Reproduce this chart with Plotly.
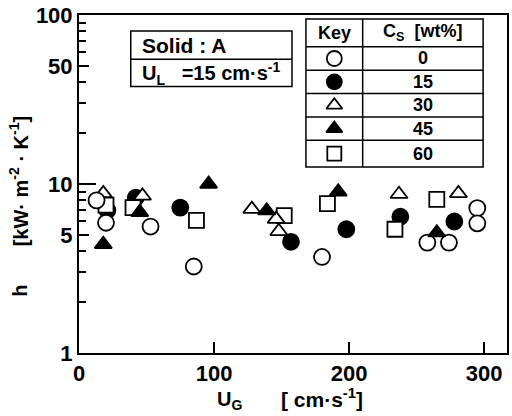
import plotly.graph_objects as go

# ---------------- data ----------------
ug_cs0 = [13, 20, 53, 85, 180, 258, 274, 295, 295]
h_cs0 = [8.0, 5.9, 5.6, 3.25, 3.7, 4.5, 4.5, 7.2, 5.85]

ug_cs15 = [21, 42, 75, 157, 198, 238, 278]
h_cs15 = [7.0, 8.3, 7.25, 4.55, 5.4, 6.4, 6.0]

ug_cs30 = [18, 47, 128, 146, 148, 237, 281]
h_cs30 = [8.8, 8.5, 7.1, 6.2, 5.25, 8.7, 8.8]

ug_cs45 = [18, 45, 96, 139, 192, 265]
h_cs45 = [4.4, 6.8, 10.0, 6.95, 9.0, 5.15]

ug_cs60 = [20, 40, 87, 152, 184, 234, 265]
h_cs60 = [7.5, 7.25, 6.1, 6.5, 7.65, 5.4, 8.1]

key_labels = ["0", "15", "30", "45", "60"]

x_ticks = [0, 100, 200, 300]
y_ticks = [1, 5, 10, 50, 100]
y_minor = [2, 3, 4, 6, 7, 8, 9, 20, 30, 40, 60, 70, 80, 90]

# ---------------- layout geometry ----------------
W, H = 512, 416
L, R, T, B = 79, 3, 13, 63
PW, PH = W - L - R, H - T - B


def px(x):
    return (x - L) / PW


def py(y):
    return (H - B - y) / PH


FONT = "Liberation Sans"
BLK = "black"

styles = {
    "0": dict(symbol="circle", size=16, color="white"),
    "15": dict(symbol="circle", size=16, color=BLK),
    "30": dict(symbol="triangle-up", size=15, color="white"),
    "45": dict(symbol="triangle-up", size=15, color=BLK),
    "60": dict(symbol="square", size=15, color="white"),
}

series = {
    "0": (ug_cs0, h_cs0),
    "15": (ug_cs15, h_cs15),
    "30": (ug_cs30, h_cs30),
    "45": (ug_cs45, h_cs45),
    "60": (ug_cs60, h_cs60),
}

fig = go.Figure()

draw_order = ["15", "60", "30", "0", "45"]
for k in draw_order:
    xs, ys = series[k]
    st = styles[k]
    fig.add_trace(go.Scatter(
        x=xs, y=ys, mode="markers", showlegend=False, cliponaxis=False,
        marker=dict(symbol=st["symbol"], size=st["size"], color=st["color"],
                    line=dict(color=BLK, width=1.8)),
    ))

# ---------------- key table ----------------
tx0, tx1, tx2 = 307, 364, 485
row_lines = [17, 45, 68.5, 92, 115.5, 139, 166]
col1c = (tx0 + tx1) / 2
col2c = (tx1 + tx2) / 2

shapes = []
line_style = dict(color=BLK, width=1.5)
shapes.append(dict(type="rect", xref="paper", yref="paper",
                   x0=px(tx0), x1=px(tx2), y0=py(row_lines[0]), y1=py(row_lines[-1]),
                   line=line_style, fillcolor="rgba(0,0,0,0)", layer="above"))
shapes.append(dict(type="line", xref="paper", yref="paper",
                   x0=px(tx1), x1=px(tx1), y0=py(row_lines[0]), y1=py(row_lines[-1]),
                   line=line_style, layer="above"))
for yl in row_lines[1:-1]:
    shapes.append(dict(type="line", xref="paper", yref="paper",
                       x0=px(tx0), x1=px(tx2), y0=py(yl), y1=py(yl),
                       line=line_style, layer="above"))

# info box
bx0, bx1 = 131, 293
by = [29, 57.5, 85]
shapes.append(dict(type="rect", xref="paper", yref="paper",
                   x0=px(bx0), x1=px(bx1), y0=py(by[0]), y1=py(by[2]),
                   line=line_style, fillcolor="rgba(0,0,0,0)", layer="above"))
shapes.append(dict(type="line", xref="paper", yref="paper",
                   x0=px(bx0), x1=px(bx1), y0=py(by[1]), y1=py(by[1]),
                   line=line_style, layer="above"))

ann = []


def text(x, y, s, size, xanchor="center", angle=0, bold=True):
    ann.append(dict(x=px(x), y=py(y), xref="paper", yref="paper", text=s,
                    showarrow=False, xanchor=xanchor, yanchor="middle",
                    textangle=angle,
                    font=dict(family=FONT, size=size, color=BLK,
                              weight="bold" if bold else "normal")))


text(140, 43.5, "Solid : A", 21, xanchor="left")
text(140, 71.5, "U<sub>L</sub>   =15 cm·s<sup>-1</sup>", 20, xanchor="left")

text(col1c, 31, "Key", 18)
text(col2c, 31, "C<sub>S</sub>  [wt%]", 18)

row_centers = [(row_lines[i] + row_lines[i + 1]) / 2 for i in range(1, 6)]
for lab, yc in zip(key_labels, row_centers):
    text(col2c, yc, lab, 18)

# key markers on an overlay paper-like axis
for lab, yc in zip(key_labels, row_centers):
    st = styles[lab]
    fig.add_trace(go.Scatter(
        x=[px(col1c)], y=[py(yc)], xaxis="x2", yaxis="y2", mode="markers",
        showlegend=False, cliponaxis=False,
        marker=dict(symbol=st["symbol"], size=st["size"] - 1, color=st["color"],
                    line=dict(color=BLK, width=1.8)),
    ))

# axis titles
text(230, 401, "U<sub>G</sub>", 20)
text(323, 398, "[ cm·s<sup>-1</sup>]", 21)
text(20, 290, "h", 20, angle=-90)
text(18, 180, "[kW· m<sup>-2</sup> · K<sup>-1</sup>]", 20, angle=-90)

tickfont = dict(family=FONT, size=22, color=BLK, weight="bold")

fig.update_layout(
    width=W, height=H,
    margin=dict(l=L, r=R, t=T, b=B, pad=0),
    paper_bgcolor="white", plot_bgcolor="white",
    showlegend=False,
    shapes=shapes, annotations=ann,
    xaxis=dict(range=[0, 317], tickvals=x_ticks, ticktext=[str(v) for v in x_ticks],
               ticks="inside", ticklen=11, tickwidth=2, tickcolor=BLK,
               showline=True, linewidth=2, linecolor=BLK, mirror=True,
               showgrid=False, zeroline=False, tickfont=tickfont),
    yaxis=dict(type="log", range=[0, 2], tickvals=y_ticks,
               ticktext=[str(v) for v in y_ticks],
               ticks="inside", ticklen=10, tickwidth=2, tickcolor=BLK,
               minor=dict(tickmode="array", tickvals=y_minor, ticks="inside",
                          ticklen=7, tickwidth=1.5, tickcolor=BLK, showgrid=False),
               showline=True, linewidth=2, linecolor=BLK, mirror=True,
               showgrid=False, zeroline=False, tickfont=tickfont),
    yaxis3=dict(type="log", range=[0, 2], overlaying="y", tickvals=[10],
                ticks="inside", ticklen=17, tickwidth=2, tickcolor=BLK,
                showticklabels=False, showgrid=False, zeroline=False,
                showline=False, side="left"),
    xaxis2=dict(range=[0, 1], overlaying="x", visible=False, fixedrange=True),
    yaxis2=dict(range=[0, 1], overlaying="y", visible=False, fixedrange=True),
)

# dummy trace so the extra tick axis is rendered
fig.add_trace(go.Scatter(x=[None], y=[None], yaxis="y3", showlegend=False))

fig.write_html("out.html")
